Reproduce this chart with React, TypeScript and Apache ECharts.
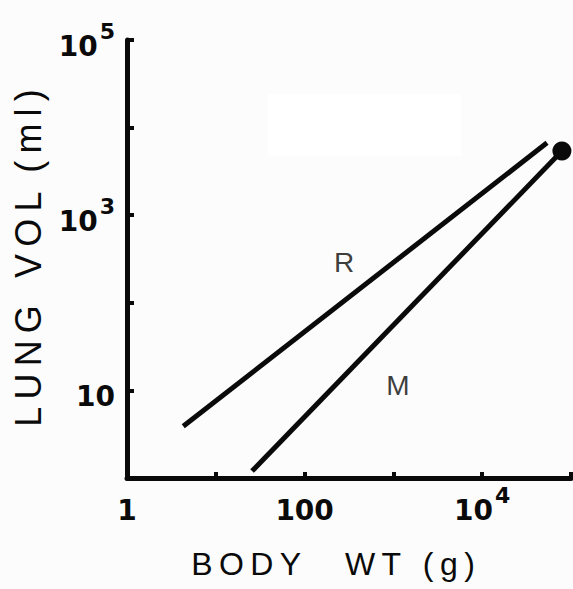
import React, { useEffect, useRef } from "react";
import * as echarts from "echarts";

// Data (log-log)
const rLine: [number, number][] = [
  [4.3, 3.9],
  [53700, 6700],
];
const mLine: [number, number][] = [
  [25.6, 1.2],
  [79000, 5400],
];
const endPoint: [number, number][] = [[79000, 5400]];
const seriesLabels = [
  { name: "R", value: [278, 285] },
  { name: "M", value: [1127, 11.5] },
];
const xTickLabelValues = [1, 100, 10000];
const yTickLabelValues = [10, 1000, 100000];
const xTitle = "B\u2009O\u2009D\u2009Y     W\u2009T\u2009 \u2009(\u2009g\u2009)";
const yTitle = "L\u2009U\u2009N\u2009G \u2009 V\u2009O\u2009L  (\u2009m\u2009l\u2009)";

const INK = "#0a0a0a";
const FONT = "'Liberation Sans', Arial, sans-serif";
const NUM_FONT = "'DejaVu Sans', 'Liberation Sans', sans-serif";

function fmt(allowed: number[]) {
  return (v: number) => {
    const hit = allowed.find((a) => Math.abs(a - v) / a < 1e-6);
    if (hit === undefined) return "";
    const e = Math.round(Math.log10(hit));
    if (hit < 1000) return `{b|${hit}}`;
    return `{b|10}{s|${e}}`;
  };
}

const richStyle = {
  b: { fontSize: 28, fontWeight: "bold", color: INK, fontFamily: NUM_FONT, lineHeight: 40, verticalAlign: "bottom" },
  s: { fontSize: 22, fontWeight: "bold", color: INK, fontFamily: NUM_FONT, lineHeight: 40, verticalAlign: "top", padding: [0, 0, 0, 2] },
};

export default function App() {
  const ref = useRef<HTMLDivElement>(null);
  useEffect(() => {
    if (!ref.current) return;
    const chart = echarts.init(ref.current, undefined, { renderer: "svg" });
    chart.setOption({
      animation: false,
      backgroundColor: "#fcfcfc",
      grid: { left: 127, right: 2, top: 40, bottom: 111, containLabel: false, outerBoundsMode: "none" },
      xAxis: {
        type: "log",
        logBase: 10,
        min: 1,
        max: 100000,
        splitNumber: 5,
        axisLine: { show: true, lineStyle: { color: INK, width: 5 } },
        axisTick: { show: true, inside: true, length: 6, lineStyle: { color: INK, width: 4 } },
        minorTick: { show: false },
        splitLine: { show: false },
        axisLabel: {
          margin: 6,
          fontSize: 28,
          fontWeight: "bold",
          fontFamily: NUM_FONT,
          formatter: fmt(xTickLabelValues),
          rich: richStyle,
          showMinLabel: true,
          showMaxLabel: true,
        },
      },
      yAxis: {
        type: "log",
        logBase: 10,
        min: 1,
        max: 100000,
        splitNumber: 5,
        axisLine: { show: true, lineStyle: { color: INK, width: 5 } },
        axisTick: { show: true, inside: true, length: 7, lineStyle: { color: INK, width: 4 } },
        minorTick: { show: false },
        splitLine: { show: false },
        axisLabel: {
          margin: 12,
          fontSize: 28,
          fontWeight: "bold",
          fontFamily: NUM_FONT,
          formatter: fmt(yTickLabelValues),
          rich: richStyle,
          showMinLabel: true,
          showMaxLabel: true,
        },
      },
      graphic: [
        { type: "rect", shape: { x: 268, y: 94, width: 193, height: 62 }, style: { fill: "#ffffff" }, z: -1 },
        {
          type: "text",
          x: 333,
          y: 564,
          style: { text: xTitle, fill: INK, font: `32px ${FONT}`, textAlign: "center", textVerticalAlign: "middle" },
        },
        {
          type: "text",
          x: 28,
          y: 258,
          rotation: Math.PI / 2,
          style: { text: yTitle, fill: INK, font: `36px ${FONT}`, textAlign: "center", textVerticalAlign: "middle" },
        },
      ],
      series: [
        {
          type: "line",
          name: "R",
          data: rLine,
          symbol: "none",
          lineStyle: { color: INK, width: 5 },
          z: 3,
        },
        {
          type: "line",
          name: "M",
          data: mLine,
          symbol: "none",
          lineStyle: { color: INK, width: 5 },
          z: 3,
        },
        {
          type: "scatter",
          data: endPoint,
          symbol: "circle",
          symbolSize: 19,
          itemStyle: { color: INK, opacity: 1 },
          z: 4,
        },
        {
          type: "scatter",
          data: seriesLabels,
          symbolSize: 0,
          label: {
            show: true,
            position: "inside",
            formatter: "{b}",
            color: INK,
            fontSize: 28,
            fontFamily: FONT,
          },
          z: 5,
        },
      ],
    });
    return () => chart.dispose();
  }, []);
  return <div ref={ref} style={{ position: "absolute", left: 0, top: 0, width: 573, height: 589 }} />;
}
